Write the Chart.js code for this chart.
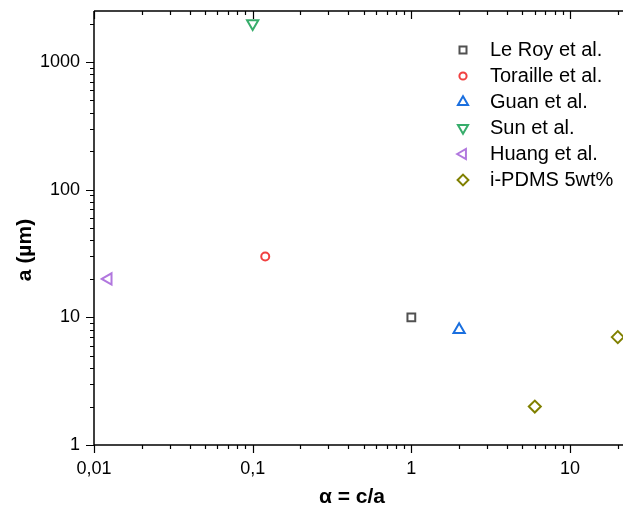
<!DOCTYPE html>
<html>
<head>
<meta charset="utf-8">
<script src="https://cdn.jsdelivr.net/npm/chart.js@4.4.1/dist/chart.umd.min.js"></script>
<style>
html, body { margin: 0; padding: 0; background: #fff; overflow: hidden; }
#wrap { width: 623px; height: 515px; position: relative; }
</style>
</head>
<body>
<div id="wrap"><canvas id="chart" width="623" height="515"></canvas></div>
<script>
"use strict";

// series
const seriesNames = ["Le Roy et al.", "Toraille et al.", "Guan et al.", "Sun et al.", "Huang et al.", "i-PDMS 5wt%"];
const seriesColors = ["#515151", "#f14040", "#1a6fdf", "#37ad6b", "#b177de", "#808000"];

const leRoyX = [1];
const leRoyY = [10];
const torailleX = [0.12];
const torailleY = [30];
const guanX = [2];
const guanY = [8];
const sunX = [0.1];
const sunY = [2000];
const huangX = [0.0123];
const huangY = [20];
const pdmsX = [6, 20];
const pdmsY = [2, 7];

// axes
const xTickValues = [0.01, 0.1, 1, 10];
const xTickLabels = ["0,01", "0,1", "1", "10"];
const yTickValues = [1, 10, 100, 1000];
const yTickLabels = ["1", "10", "100", "1000"];
const xTitle = "\u03b1 = c/a";
const yTitle = "a (\u00b5m)";

const FONT = "'Liberation Sans', Arial, sans-serif";

function pts(xs, ys) {
	return xs.map((x, i) => ({ x: x, y: ys[i] }));
}

function makeSet(i, data, style, rotation, radius) {
	return {
		label: seriesNames[i],
		data: data,
		pointStyle: style,
		rotation: rotation,
		pointRadius: radius,
		pointHoverRadius: radius,
		pointBorderWidth: 2,
		borderColor: seriesColors[i],
		pointBorderColor: seriesColors[i],
		pointBackgroundColor: "rgba(0,0,0,0)",
		backgroundColor: "rgba(0,0,0,0)",
		showLine: false,
		clip: false,
	};
}

function tickValues(min, max) {
	const out = [];
	for (let d = Math.floor(Math.log10(min)); d <= Math.ceil(Math.log10(max)); ++d) {
		for (let k = 1; k <= 9; ++k) {
			const v = k * Math.pow(10, d);
			if (v >= min * 0.9999 && v <= max * 1.0001) {
				out.push({ v: v, major: k === 1 });
			}
		}
	}
	return out;
}

function noPadding(scale) {
	scale.paddingTop = 0;
	scale.paddingBottom = 0;
	scale.paddingLeft = 0;
	scale.paddingRight = 0;
}

const framePlugin = {
	id: "frame",
	beforeDatasetsDraw(chart) {
		const ctx = chart.ctx;
		const a = chart.chartArea;
		const xs = chart.scales.x;
		const ys = chart.scales.y;
		ctx.save();
		ctx.strokeStyle = "#000";
		ctx.lineWidth = 1.5;
		ctx.beginPath();
		ctx.moveTo(a.left, a.top);
		ctx.lineTo(a.left, a.bottom);
		ctx.moveTo(a.left, a.bottom);
		ctx.lineTo(a.right, a.bottom);
		ctx.moveTo(a.left, a.top);
		ctx.lineTo(a.right, a.top);
		ctx.stroke();

		ctx.lineWidth = 1.2;
		ctx.beginPath();
		for (const t of tickValues(xs.min, xs.max)) {
			const px = Math.round(xs.getPixelForValue(t.v)) + 0.5;
			const len = t.major ? 8 : 4;
			ctx.moveTo(px, a.bottom);
			ctx.lineTo(px, a.bottom + len);
			ctx.moveTo(px, a.top);
			ctx.lineTo(px, a.top + len);
		}
		for (const t of tickValues(ys.min, ys.max)) {
			const py = Math.round(ys.getPixelForValue(t.v)) + 0.5;
			const len = t.major ? 8 : 4;
			ctx.moveTo(a.left, py);
			ctx.lineTo(a.left - len, py);
		}
		ctx.stroke();
		ctx.restore();
	},
	afterDraw(chart) {
		const ctx = chart.ctx;
		ctx.save();
		ctx.fillStyle = "#000";
		ctx.font = "bold 21px " + FONT;
		ctx.textAlign = "center";
		ctx.textBaseline = "middle";
		ctx.fillText(xTitle, 352, 497);
		ctx.translate(25, 250);
		ctx.rotate(-Math.PI / 2);
		ctx.fillText(yTitle, 0, 0);
		ctx.restore();

		// legend
		ctx.save();
		chart.data.datasets.forEach((ds, i) => {
			const y = 50 + 26 * i;
			ctx.strokeStyle = ds.pointBorderColor;
			ctx.fillStyle = "rgba(0,0,0,0)";
			ctx.lineWidth = 2;
			Chart.helpers.drawPoint(ctx, {
				pointStyle: ds.pointStyle,
				rotation: ds.rotation,
				radius: ds.pointRadius * 0.9,
				borderWidth: 2,
			}, 463, y);
			ctx.fillStyle = "#000";
			ctx.font = "20px " + FONT;
			ctx.textAlign = "left";
			ctx.textBaseline = "middle";
			ctx.fillText(ds.label, 490, y);
		});
		ctx.restore();
	},
};

window.onload = () => {
	const canvas = document.getElementById("chart");
	new Chart(canvas, {
		type: "scatter",
		data: {
			datasets: [
				makeSet(0, pts(leRoyX, leRoyY), "rect", 0, 5.5),
				makeSet(1, pts(torailleX, torailleY), "circle", 0, 4),
				makeSet(2, pts(guanX, guanY), "triangle", 0, 6.5),
				makeSet(3, pts(sunX, sunY), "triangle", 180, 6.5),
				makeSet(4, pts(huangX, huangY), "triangle", 270, 6.5),
				makeSet(5, pts(pdmsX, pdmsY), "rectRot", 0, 6),
			],
		},
		options: {
			responsive: false,
			animation: false,
			events: [],
			layout: { autoPadding: false, padding: { top: 11, right: 0, left: 0, bottom: 0 } },
			plugins: {
				legend: { display: false },
				tooltip: { enabled: false },
			},
			scales: {
				x: {
					type: "logarithmic",
					position: "bottom",
					min: 0.01,
					max: 21.57,
					grid: { display: false, drawTicks: false },
					border: { display: false },
					afterBuildTicks: (scale) => {
						scale.ticks = xTickValues.map(v => ({ value: v }));
					},
					afterFit: (scale) => {
						scale.height = 70;
						noPadding(scale);
					},
					ticks: {
						autoSkip: false,
						maxRotation: 0,
						padding: 13,
						color: "#000",
						font: { family: FONT, size: 18 },
						callback: (v, i) => xTickLabels[i],
					},
				},
				y: {
					type: "logarithmic",
					position: "left",
					min: 1,
					max: 2508,
					grid: { display: false, drawTicks: false },
					border: { display: false },
					afterBuildTicks: (scale) => {
						scale.ticks = yTickValues.map(v => ({ value: v }));
					},
					afterFit: (scale) => {
						scale.width = 94;
						noPadding(scale);
					},
					ticks: {
						autoSkip: false,
						padding: 14,
						color: "#000",
						font: { family: FONT, size: 18 },
						callback: (v, i) => yTickLabels[i],
					},
				},
			},
		},
		plugins: [framePlugin],
	});
};
</script>
</body>
</html>
